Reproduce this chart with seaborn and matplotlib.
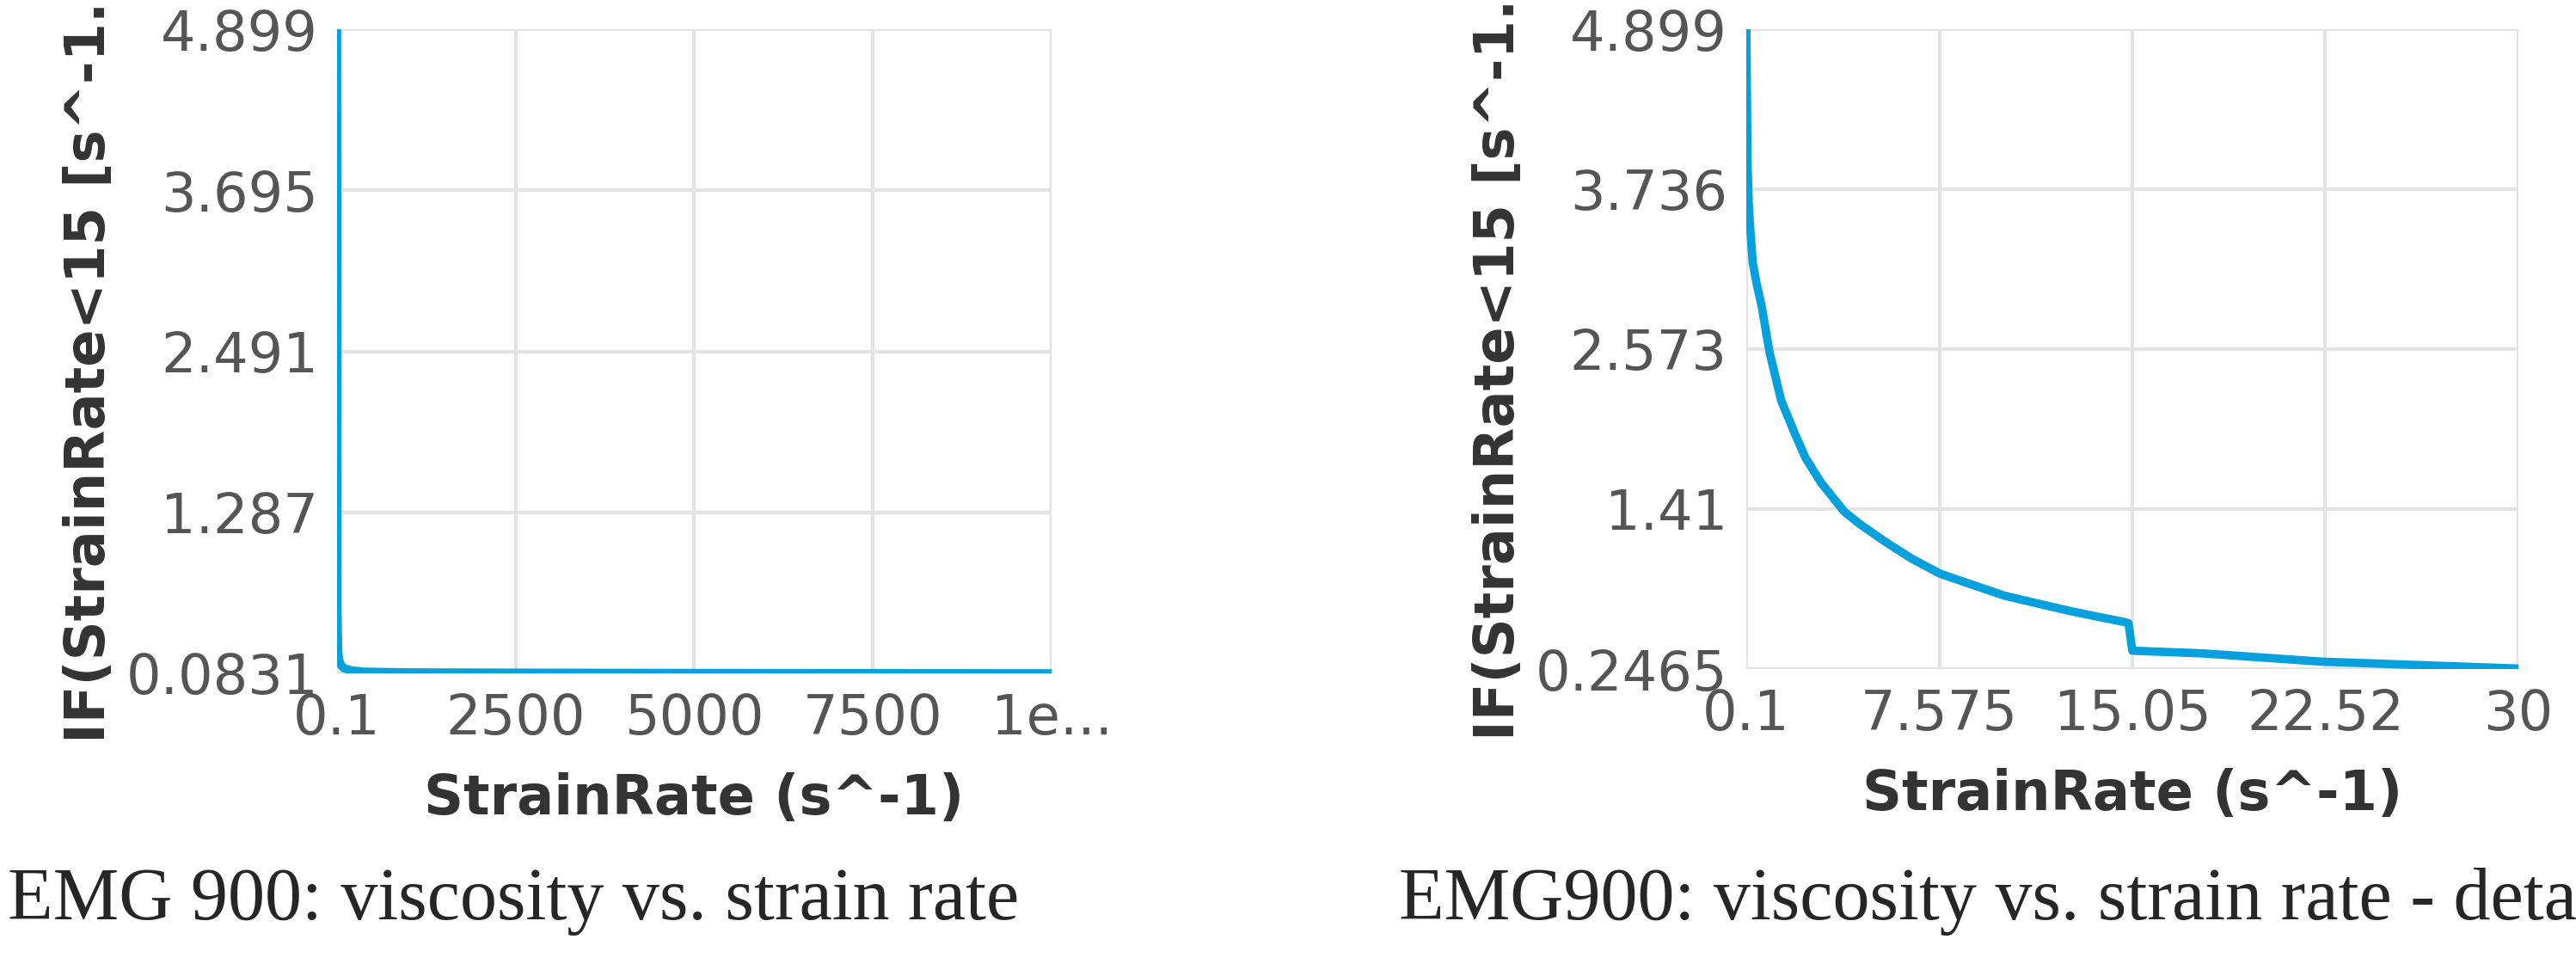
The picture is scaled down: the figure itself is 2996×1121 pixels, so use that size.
import numpy as np
import pandas as pd
import matplotlib
matplotlib.use("Agg")
import matplotlib.pyplot as plt
import seaborn as sns

# full range curve
full_rate = [0.1, 5, 15, 30, 60, 100, 200, 400, 1000, 3000, 6000, 10000]
full_visc = [4.899, 0.60, 0.25, 0.18, 0.14, 0.12, 0.105, 0.095, 0.090, 0.087, 0.085, 0.0831]

# detail curve (0.1 .. 30)
det_rate = [0.1, 0.15, 0.2, 0.25, 0.35, 0.5, 0.7, 1.0, 1.45, 2.0, 2.4, 3.0, 3.9, 4.5, 5.5,
            6.5, 7.6, 9.0, 10.1, 11.0, 12.6, 13.5, 14.7, 14.9, 15.05, 17.8, 22.4, 30]
det_visc = [4.899, 3.9, 3.6, 3.46, 3.2, 3.05, 2.88, 2.55, 2.2, 1.95, 1.78, 1.6, 1.39, 1.3, 1.17,
            1.05, 0.94, 0.85, 0.78, 0.74, 0.67, 0.635, 0.59, 0.58, 0.38, 0.36, 0.30, 0.25]

full_xticks = [0.1, 2500, 5000, 7500, 10000]
full_xlabels = ["0.1", "2500", "5000", "7500", "1e..."]
full_yticks = [0.0831, 1.287, 2.491, 3.695, 4.899]
det_xticks = [0.1, 7.575, 15.05, 22.52, 30]
det_xlabels = ["0.1", "7.575", "15.05", "22.52", "30"]
det_yticks = [0.2465, 1.41, 2.573, 3.736, 4.899]

ylabel = "IF(StrainRate<15 [s^-1..."
xlabel = "StrainRate (s^-1)"
captions = ["EMG 900: viscosity vs. strain rate", "EMG900: viscosity vs. strain rate - detail"]

sns.set_style("white")
fig = plt.figure(figsize=(29.96, 11.21), dpi=100)
ax1 = fig.add_axes([392 / 2996, 1 - 783 / 1121, 831 / 2996, 749 / 1121])
ax2 = fig.add_axes([2031 / 2996, 1 - 778 / 1121, 898 / 2996, 744 / 1121])

line_col = "#06a0dc"
panels = [
    (ax1, full_rate, full_visc, full_xticks, full_xlabels, full_yticks),
    (ax2, det_rate, det_visc, det_xticks, det_xlabels, det_yticks),
]
for ax, xs, ys, xt, xl, yt in panels:
    df = pd.DataFrame({"x": xs, "y": ys})
    sns.lineplot(data=df, x="x", y="y", ax=ax, color=line_col, linewidth=7, sort=False)
    ax.set_xlim(xt[0], xt[-1])
    ax.set_ylim(yt[0], yt[-1])
    ax.set_xticks(xt)
    ax.set_xticklabels(xl)
    ax.set_yticks(yt)
    ax.set_yticklabels([str(v) for v in yt])
    ax.grid(True, color="#e3e3e3", linewidth=3)
    for s in ax.spines.values():
        s.set_visible(False)
    ax.tick_params(axis="both", labelsize=46, labelcolor="#555555", color="#e3e3e3",
                   length=12, width=3, pad=4)
    ax.set_xlabel(xlabel, fontsize=46, fontweight="bold", color="#333333", labelpad=22)
    ax.set_ylabel(ylabel, fontsize=46, fontweight="bold", color="#333333", labelpad=8)
    ax.margins(0)

fig.text(0.003, 0.065, captions[0], fontsize=62, family="Liberation Serif", ha="left", va="center")
fig.text(0.543, 0.065, captions[1], fontsize=62, family="Liberation Serif", ha="left", va="center")

fig.savefig("out.png", dpi=100, facecolor="white")
